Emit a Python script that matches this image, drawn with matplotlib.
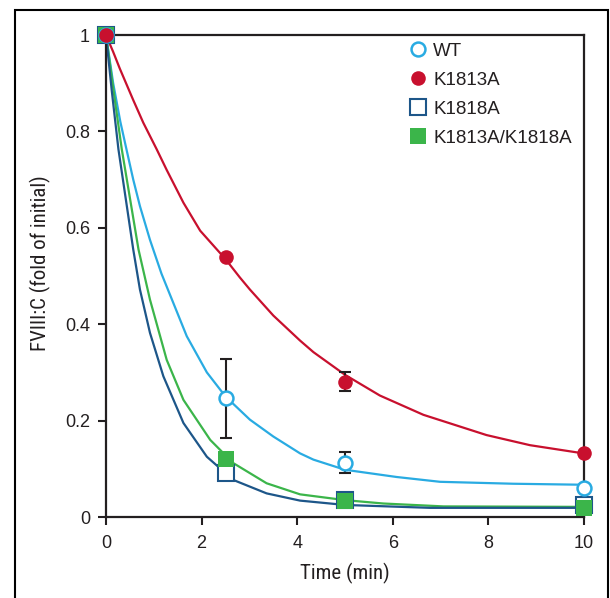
import matplotlib.pyplot as plt
from matplotlib import font_manager
from matplotlib.patches import Rectangle

# fitted curves
wt_t = [0, 0.15, 0.3, 0.43, 0.57, 0.71, 0.92, 1.16, 1.69, 2.11, 2.5, 3.01, 3.5, 4.06, 4.34, 5.0, 6.08, 6.99, 8.52, 9.92, 10]
wt_v = [1, 0.9, 0.82, 0.762, 0.70, 0.645, 0.575, 0.505, 0.375, 0.30, 0.25, 0.202, 0.167, 0.132, 0.119, 0.098, 0.083, 0.073, 0.069, 0.067, 0.067]

k13_t = [0, 0.15, 0.29, 0.57, 0.78, 1.06, 1.27, 1.62, 1.97, 2.5, 2.8, 3.01, 3.5, 4.06, 4.34, 5.0, 5.73, 6.64, 7.96, 8.87, 9.92, 10]
k13_v = [1, 0.965, 0.93, 0.865, 0.818, 0.763, 0.72, 0.652, 0.594, 0.535, 0.497, 0.472, 0.418, 0.366, 0.342, 0.295, 0.252, 0.212, 0.17, 0.149, 0.133, 0.132]

k18_t = [0, 0.12, 0.26, 0.57, 0.71, 0.92, 1.2, 1.62, 2.11, 2.66, 3.36, 4.06, 5.0, 6.78, 10]
k18_v = [1, 0.885, 0.763, 0.555, 0.472, 0.382, 0.292, 0.195, 0.125, 0.077, 0.049, 0.034, 0.025, 0.019, 0.019]

dbl_t = [0, 0.15, 0.33, 0.68, 0.92, 1.27, 1.62, 2.18, 2.66, 3.36, 4.06, 5.0, 5.8, 7.06, 10]
dbl_v = [1, 0.89, 0.763, 0.555, 0.451, 0.326, 0.243, 0.16, 0.112, 0.07, 0.047, 0.035, 0.028, 0.022, 0.021]

# measured points
pts_t = [0, 2.5, 5, 10]
wt_pts = [1, 0.246, 0.113, 0.060]
wt_err = [0, 0.082, 0.021, 0]
k13_pts = [1, 0.54, 0.281, 0.133]
k13_err = [0, 0, 0.019, 0]
k18_pts = [1, 0.091, 0.035, 0.024]
dbl_pts = [1, 0.12, 0.033, 0.018]

xticks = [0, 2, 4, 6, 8, 10]
yticks = [0, 0.2, 0.4, 0.6, 0.8, 1]
ytick_labels = ["0", "0.2", "0.4", "0.6", "0.8", "1"]

c_wt = "#29abe2"
c_k13 = "#c8102e"
c_k18 = "#1d5689"
c_dbl = "#3bb54a"
ink = "#231f20"

plt.rcParams["font.family"] = ["Liberation Sans", "DejaVu Sans"]


def upright(f):
    return f.style == "normal" and f.weight in (400, "normal", "regular")


# condensed face for the axis titles, if one is installed
label_font = None
for want in ["Liberation Sans Narrow", "Roboto Condensed", "Open Sans Condensed"]:
    hits = [f for f in font_manager.fontManager.ttflist if f.name == want and upright(f)]
    if hits:
        label_font = font_manager.FontProperties(fname=hits[0].fname, size=15)
        break
if label_font is None:
    hits = [f for f in font_manager.fontManager.ttflist
            if f.name == "DejaVu Sans" and "condensed" in str(f.stretch) and upright(f)]
    if hits:
        label_font = font_manager.FontProperties(fname=hits[0].fname, size=14)
    else:
        label_font = font_manager.FontProperties(family="Liberation Sans", size=13)

fig = plt.figure(figsize=(6.1, 5.98), dpi=100)
ax = fig.add_axes([106 / 610, 81 / 598, 478 / 610, 482 / 598])

fig.add_artist(Rectangle((15 / 610, -0.1), 593 / 610, 0.1 + 588 / 598,
                         transform=fig.transFigure, fill=False,
                         edgecolor="black", linewidth=1.5))

ax.plot(k13_t, k13_v, color=c_k13, lw=1.6, zorder=2)
ax.plot(wt_t, wt_v, color=c_wt, lw=1.6, zorder=2)
ax.plot(dbl_t, dbl_v, color=c_dbl, lw=1.6, zorder=2)
ax.plot(k18_t, k18_v, color=c_k18, lw=1.6, zorder=2)

ax.errorbar(pts_t, wt_pts, yerr=wt_err, fmt="none", ecolor=ink, elinewidth=1.5,
            capsize=4.5, capthick=1.5, zorder=3)
ax.errorbar(pts_t, k13_pts, yerr=k13_err, fmt="none", ecolor=ink, elinewidth=1.5,
            capsize=4.5, capthick=1.5, zorder=3)

ax.plot(pts_t, k18_pts, ls="none", marker="s", ms=11, mfc="white", mec=c_k18,
        mew=1.5, clip_on=False, zorder=4, label="K1818A")
ax.plot(pts_t, dbl_pts, ls="none", marker="s", ms=11.5, mfc=c_dbl, mec=c_dbl,
        mew=0, clip_on=False, zorder=5, label="K1813A/K1818A")
ax.plot(pts_t, wt_pts, ls="none", marker="o", ms=10, mfc="white", mec=c_wt,
        mew=1.8, clip_on=False, zorder=5, label="WT")
ax.plot(pts_t, k13_pts, ls="none", marker="o", ms=10.5, mfc=c_k13, mec=c_k13,
        mew=0, clip_on=False, zorder=5, label="K1813A")

ax.set_xlim(0, 10)
ax.set_ylim(0, 1)
ax.set_xticks(xticks)
ax.set_yticks(yticks)
ax.set_yticklabels(ytick_labels)
ax.tick_params(direction="out", length=5.5, width=1.5, color=ink,
               labelsize=13, labelcolor=ink)
ax.tick_params(axis="x", pad=7.5)
ax.tick_params(axis="y", pad=6)
for s in ax.spines.values():
    s.set_linewidth(1.6)
    s.set_color(ink)

ax.set_xlabel("Time (min)", fontproperties=label_font, color=ink)
ax.set_ylabel("FVIII:C (fold of initial)", fontproperties=label_font, color=ink)
ax.xaxis.set_label_coords(0.5, -0.095)
ax.yaxis.set_label_coords(-0.115, 0.526)

h, l = ax.get_legend_handles_labels()
order = [l.index(x) for x in ["WT", "K1813A", "K1818A", "K1813A/K1818A"]]
ax.legend([h[i] for i in order], [l[i] for i in order], loc="upper left",
          bbox_to_anchor=(0.612, 1.008), frameon=False, fontsize=13.5,
          handlelength=0.9, handletextpad=0.35, labelspacing=0.64,
          borderaxespad=0.2, labelcolor=ink)

fig.savefig("out.png", dpi=100)
